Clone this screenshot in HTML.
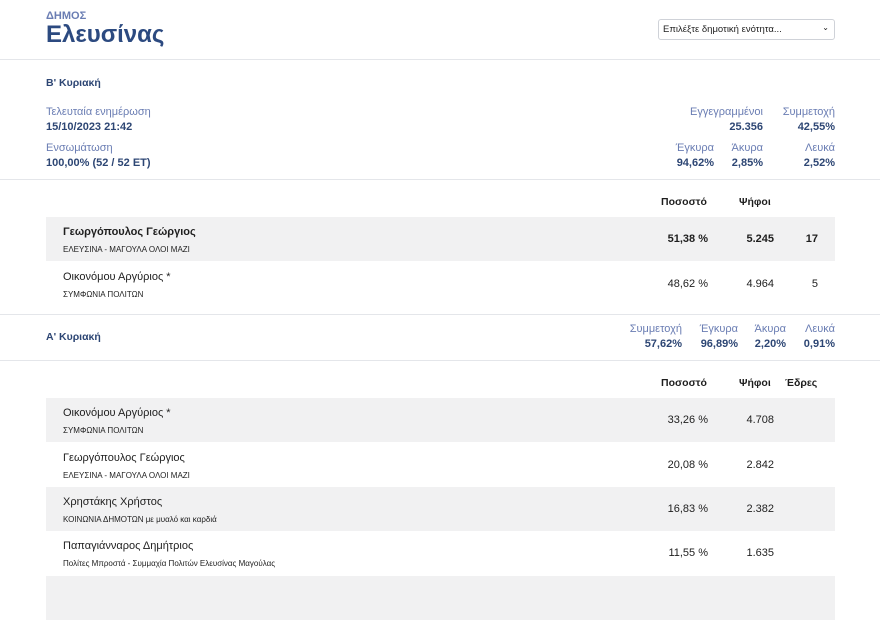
<!DOCTYPE html>
<html><head><meta charset="utf-8"><style>
*{margin:0;padding:0;box-sizing:border-box}
body{width:880px;height:587px;overflow:hidden;background:#fff;font-family:"Liberation Sans","DejaVu Sans",sans-serif;position:relative;color:#1e1e1e}
.a{position:absolute;white-space:nowrap}
.hr{position:absolute;left:0;width:880px;height:1px;background:#e4e6ea}
.lbl{color:#6a7db3;font-size:11px}
.val{color:#2d4674;font-size:11px;font-weight:bold}
.r{text-align:right}
.row{position:absolute;left:46px;width:789px;height:44px}
.g{background:#f1f1f2}
.nm{position:absolute;left:17px;top:9px;font-size:11px}
.pt{position:absolute;left:17px;top:28px;font-size:8px}
.c1{position:absolute;right:127px;top:16px;font-size:11px}
.c2{position:absolute;right:61px;top:16px;font-size:11px}
.c3{position:absolute;right:17px;top:16px;font-size:11px}
.th{font-size:10.5px;font-weight:bold}
</style></head><body>
<div class="a" style="left:46px;top:10px;font-size:11px;color:#6a7db3;font-weight:bold">ΔΗΜΟΣ</div>
<div class="a" style="left:46px;top:21px;font-size:24px;color:#2c4a80;font-weight:bold">Ελευσίνας</div>
<div class="a" style="left:658px;top:19px;width:177px;height:21px;border:1px solid #cfd2d8;border-radius:3px;font-size:9.5px;padding:4px 0 0 4px">Επιλέξτε δημοτική ενότητα...<span style="position:absolute;right:5px;top:3px;font-size:8px">⌄</span></div>
<div class="hr" style="top:59px"></div>
<div class="a" style="left:46px;top:77px;font-size:10.5px;font-weight:bold;color:#2d4674">Β' Κυριακή</div>
<div class="a lbl" style="left:46px;top:106px">Τελευταία ενημέρωση</div>
<div class="a val" style="left:46px;top:121px">15/10/2023 21:42</div>
<div class="a lbl" style="left:46px;top:142px">Ενσωμάτωση</div>
<div class="a val" style="left:46px;top:157px">100,00% (52 / 52 ΕΤ)</div>
<div class="a lbl r" style="right:117px;top:106px">Εγγεγραμμένοι</div>
<div class="a val r" style="right:117px;top:121px">25.356</div>
<div class="a lbl r" style="right:45px;top:106px">Συμμετοχή</div>
<div class="a val r" style="right:45px;top:121px">42,55%</div>
<div class="a lbl r" style="right:166px;top:142px">Έγκυρα</div>
<div class="a val r" style="right:166px;top:157px">94,62%</div>
<div class="a lbl r" style="right:117px;top:142px">Άκυρα</div>
<div class="a val r" style="right:117px;top:157px">2,85%</div>
<div class="a lbl r" style="right:45px;top:142px">Λευκά</div>
<div class="a val r" style="right:45px;top:157px">2,52%</div>
<div class="hr" style="top:179px"></div>
<div class="a th" style="left:661px;top:196px">Ποσοστό</div>
<div class="a th" style="left:739px;top:196px">Ψήφοι</div>
<div class="row g" style="top:217px"><div class="nm" style="font-weight:bold">Γεωργόπουλος Γεώργιος</div><div class="pt">ΕΛΕΥΣΙΝΑ - ΜΑΓΟΥΛΑ ΟΛΟΙ ΜΑΖΙ</div><div class="c1" style="font-weight:bold">51,38 %</div><div class="c2" style="font-weight:bold">5.245</div><div class="c3" style="font-weight:bold">17</div></div>
<div class="row" style="top:262px"><div class="nm">Οικονόμου Αργύριος *</div><div class="pt">ΣΥΜΦΩΝΙΑ ΠΟΛΙΤΩΝ</div><div class="c1">48,62 %</div><div class="c2">4.964</div><div class="c3" style="right:17px">5</div></div>
<div class="hr" style="top:314px"></div>
<div class="a" style="left:46px;top:331px;font-size:10.5px;font-weight:bold;color:#2d4674">Α' Κυριακή</div>
<div class="a lbl r" style="right:198px;top:323px">Συμμετοχή</div>
<div class="a val r" style="right:198px;top:338px">57,62%</div>
<div class="a lbl r" style="right:142px;top:323px">Έγκυρα</div>
<div class="a val r" style="right:142px;top:338px">96,89%</div>
<div class="a lbl r" style="right:94px;top:323px">Άκυρα</div>
<div class="a val r" style="right:94px;top:338px">2,20%</div>
<div class="a lbl r" style="right:45px;top:323px">Λευκά</div>
<div class="a val r" style="right:45px;top:338px">0,91%</div>
<div class="hr" style="top:360px"></div>
<div class="a th" style="left:661px;top:377px">Ποσοστό</div>
<div class="a th" style="left:739px;top:377px">Ψήφοι</div>
<div class="a th" style="left:785px;top:377px">Έδρες</div>
<div class="row g" style="top:398px"><div class="nm">Οικονόμου Αργύριος *</div><div class="pt">ΣΥΜΦΩΝΙΑ ΠΟΛΙΤΩΝ</div><div class="c1">33,26 %</div><div class="c2">4.708</div></div>
<div class="row" style="top:443px"><div class="nm">Γεωργόπουλος Γεώργιος</div><div class="pt">ΕΛΕΥΣΙΝΑ - ΜΑΓΟΥΛΑ ΟΛΟΙ ΜΑΖΙ</div><div class="c1">20,08 %</div><div class="c2">2.842</div></div>
<div class="row g" style="top:487px"><div class="nm">Χρηστάκης Χρήστος</div><div class="pt">ΚΟΙΝΩΝΙΑ ΔΗΜΟΤΩΝ με μυαλό και καρδιά</div><div class="c1">16,83 %</div><div class="c2">2.382</div></div>
<div class="row" style="top:531px"><div class="nm">Παπαγιάνναρος Δημήτριος</div><div class="pt">Πολίτες Μπροστά - Συμμαχία Πολιτών Ελευσίνας Μαγούλας</div><div class="c1">11,55 %</div><div class="c2">1.635</div></div>
<div class="row g" style="top:576px"></div>
</body></html>
